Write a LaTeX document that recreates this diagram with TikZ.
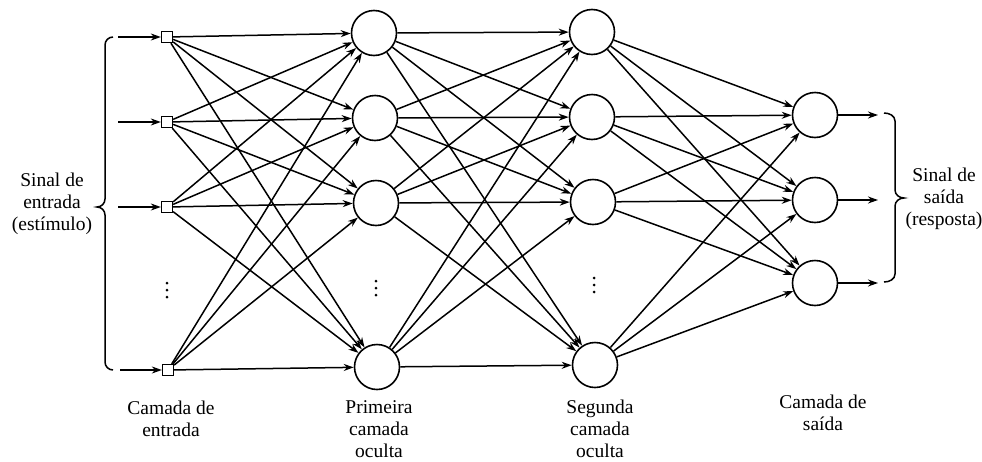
\documentclass[tikz,border=0pt]{standalone}
\usepackage{fontspec}
\setmainfont{Liberation Serif}
\usetikzlibrary{arrows.meta}
\begin{document}
\begin{tikzpicture}[x=1pt,y=-1pt,
 neuron/.style={circle,draw,line width=1.6pt,minimum size=45pt,inner sep=0pt},
 inbox/.style={rectangle,draw,line width=1.3pt,minimum size=11pt,inner sep=0pt},
 conn/.style={line width=1.5pt,-{Stealth[length=10pt,width=7pt]}},
 lbl/.style={align=center,font=\fontsize{19.5}{22}\selectfont},
 brace/.style={line width=1.5pt}]
\useasboundingbox (0,0) rectangle (982,461);
% input layer
\node[inbox] (i1) at (167,37) {};
\node[inbox] (i2) at (167,122) {};
\node[inbox] (i3) at (167,207) {};
\node[inbox] (i4) at (168,370) {};
% first hidden layer
\node[neuron] (h1) at (374,33) {};
\node[neuron] (h2) at (375,118) {};
\node[neuron] (h3) at (376,203) {};
\node[neuron] (h4) at (377,367) {};
% second hidden layer
\node[neuron] (g1) at (592,32) {};
\node[neuron] (g2) at (592,117) {};
\node[neuron] (g3) at (593,202) {};
\node[neuron] (g4) at (595,365) {};
% output layer
\node[neuron] (o1) at (815,115) {};
\node[neuron] (o2) at (815,200) {};
\node[neuron] (o3) at (815,283) {};
% dots
\foreach \x/\y in {167/290, 376/288, 594/285}
  \foreach \d in {-7,0,7} \fill (\x,\y+\d) circle (1.5pt);
% input signal start points
\coordinate (s1) at (118,37);
\coordinate (s2) at (118,122);
\coordinate (s3) at (118,207);
\coordinate (s4) at (120,370);
\foreach \k in {1,...,4} \draw[conn] (s\k) -- (i\k);
% output signal end points
\coordinate (t1) at (878,115);
\coordinate (t2) at (878,200);
\coordinate (t3) at (878,283);
\foreach \k in {1,2,3} \draw[conn] (o\k) -- (t\k);
% full connections
\foreach \a in {1,...,4} \foreach \b in {1,...,4} \draw[conn] (i\a) -- (h\b);
\foreach \a in {1,...,4} \foreach \b in {1,...,4} \draw[conn] (h\a) -- (g\b);
\foreach \a in {1,...,4} \foreach \b in {1,2,3} \draw[conn] (g\a) -- (o\b);
% braces
\draw[brace] (113,37) to[out=180,in=90] (105,45) -- (105,199) to[out=-90,in=0] (97,207)
  to[out=0,in=90] (105,215) -- (105,362) to[out=-90,in=180] (113,370);
\draw[brace] (884,113) to[out=0,in=90] (895,121) -- (895,190) to[out=-90,in=180] (904,198)
  to[out=180,in=90] (895,206) -- (895,274) to[out=-90,in=0] (884,282);
% labels
\node[lbl] (lin) at (52,204) {Sinal de\\entrada\\(estímulo)};
\node[lbl] (lout) at (944,199) {Sinal de\\saída\\(resposta)};
\node[lbl] (l1) at (171,419) {Camada de\\entrada};
\node[lbl] (l2) at (379,429) {Primeira\\camada\\oculta};
\node[lbl] (l3) at (600,429) {Segunda\\camada\\oculta};
\node[lbl] (l4) at (823,413) {Camada de\\saída};
\end{tikzpicture}
\end{document}
